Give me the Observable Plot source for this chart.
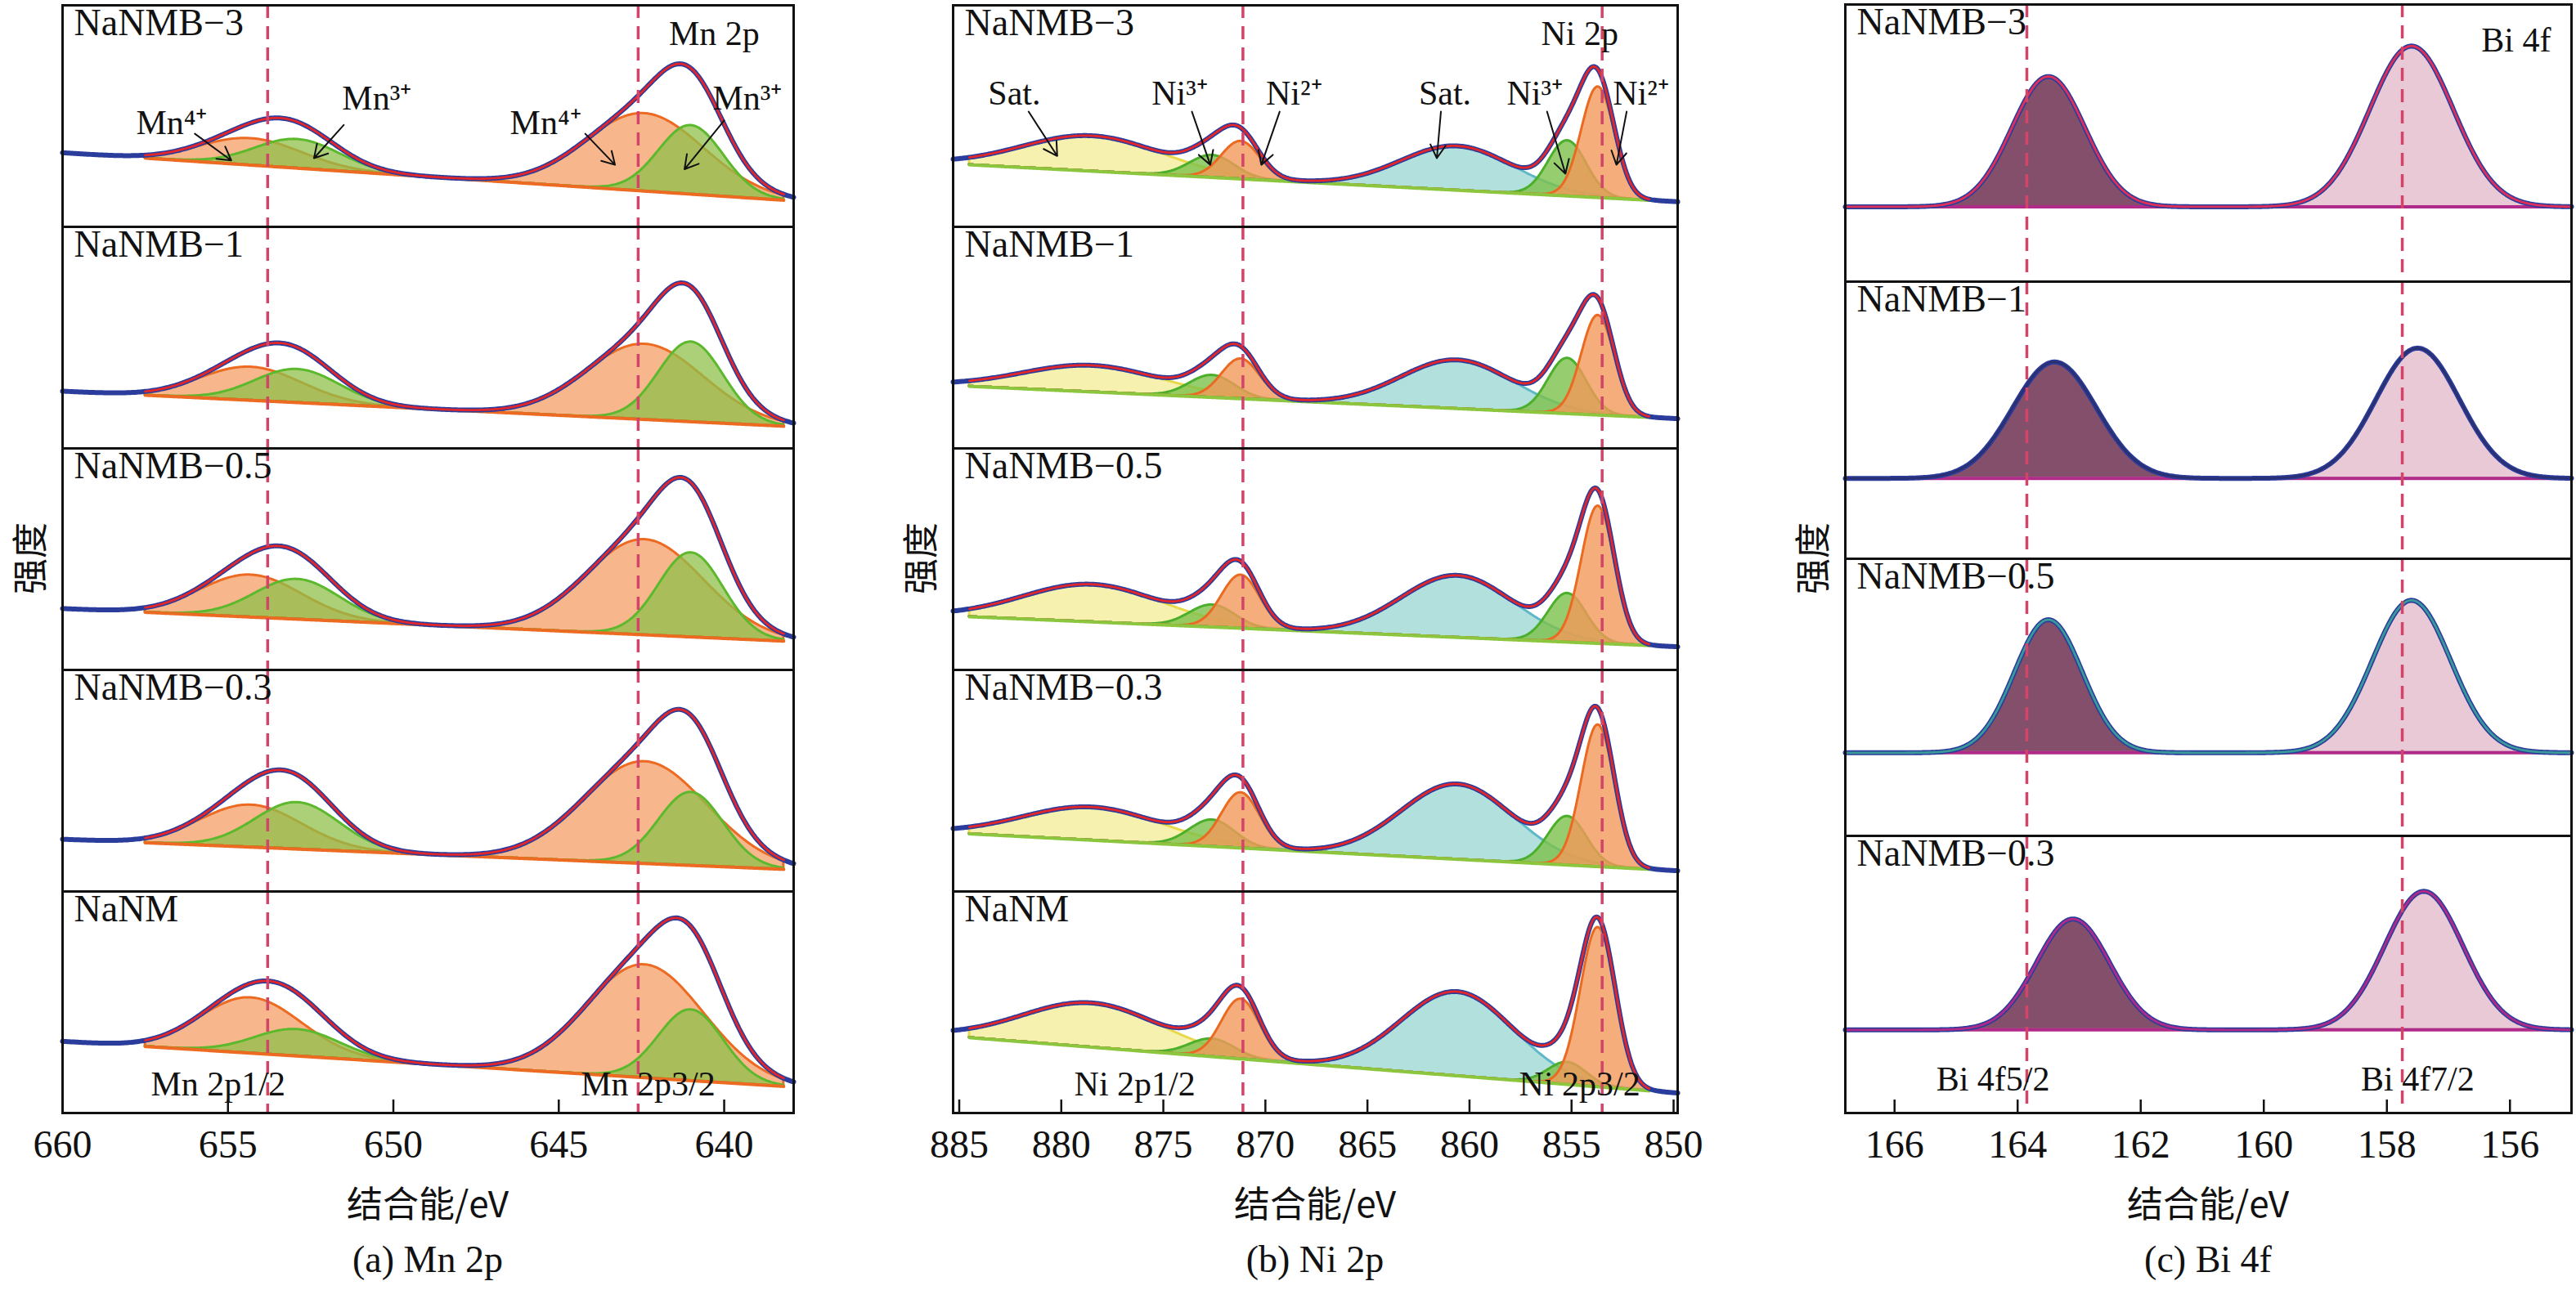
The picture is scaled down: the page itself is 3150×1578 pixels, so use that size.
<!DOCTYPE html>
<html><head><meta charset="utf-8">
<script src="https://cdn.jsdelivr.net/npm/d3@7"></script>
<script src="https://cdn.jsdelivr.net/npm/@observablehq/plot@0.6"></script>
<style>
body{margin:0;background:#fff;}
#root{position:relative;width:3150px;height:1578px;overflow:hidden;font-family:'Liberation Serif','Times New Roman',serif;}
.lab{position:absolute;transform:translateX(-50%);white-space:nowrap;color:#111;line-height:1;}
.cjk{font-family:'Noto Sans CJK SC',sans-serif;font-size:44px;}
.cap{font-size:46px;}
.pl{position:absolute;top:0;}
</style></head><body><div id="root"></div>
<script>
const FONT = "'Liberation Serif','Times New Roman',serif";
// ---------- Mn 2p ----------
const mnSamples = ["NaNMB-3","NaNMB-1","NaNMB-0.5","NaNMB-0.3","NaNM"];
const mnBaseLeft  = [0.31,0.24,0.26,0.22,0.30];
const mnBaseRight = [0.12,0.10,0.13,0.10,0.12];
// sample, kind, center(eV), height, fwhm
const mnPeaks = [
 ["NaNMB-3","Mn4+",654.3,0.12,3.6],["NaNMB-3","Mn3+",652.9,0.13,3.0],["NaNMB-3","Mn4+",642.4,0.35,4.2],["NaNMB-3","Mn3+",641.0,0.31,2.3],
 ["NaNMB-1","Mn4+",654.3,0.15,3.6],["NaNMB-1","Mn3+",652.9,0.15,3.0],["NaNMB-1","Mn4+",642.4,0.34,4.2],["NaNMB-1","Mn3+",641.0,0.36,2.3],
 ["NaNMB-0.5","Mn4+",654.3,0.19,3.6],["NaNMB-0.5","Mn3+",652.9,0.18,3.0],["NaNMB-0.5","Mn4+",642.4,0.43,4.2],["NaNMB-0.5","Mn3+",641.0,0.38,2.3],
 ["NaNMB-0.3","Mn4+",654.3,0.19,3.6],["NaNMB-0.3","Mn3+",652.9,0.21,3.0],["NaNMB-0.3","Mn4+",642.4,0.46,4.4],["NaNMB-0.3","Mn3+",641.0,0.33,2.3],
 ["NaNM","Mn4+",654.3,0.25,3.6],["NaNM","Mn3+",652.9,0.12,3.0],["NaNM","Mn4+",642.4,0.51,4.2],["NaNM","Mn3+",641.0,0.32,2.3]
];
const mnTicks = [660,655,650,645,640];
// ---------- Ni 2p ----------
const niSamples = ["NaNMB-3","NaNMB-1","NaNMB-0.5","NaNMB-0.3","NaNM"];
const niBaseLeft  = [0.28,0.28,0.24,0.26,0.34];
const niBaseRight = [0.12,0.14,0.11,0.10,0.10];
const niPeaks = [
 ["NaNMB-3","SatA",878.5,0.16,8],["NaNMB-3","Ni3+",872.6,0.10,2.6],["NaNMB-3","Ni2+",871.2,0.17,2.2],["NaNMB-3","SatB",860.6,0.20,6.5],["NaNMB-3","Ni3+",855.2,0.25,2.2],["NaNMB-3","Ni2+",853.7,0.50,1.9],
 ["NaNMB-1","SatA",878.5,0.12,8],["NaNMB-1","Ni3+",872.6,0.10,2.6],["NaNMB-1","Ni2+",871.2,0.18,2.2],["NaNMB-1","SatB",860.6,0.22,6.5],["NaNMB-1","Ni3+",855.2,0.25,2.2],["NaNMB-1","Ni2+",853.7,0.45,1.9],
 ["NaNMB-0.5","SatA",878.5,0.17,8],["NaNMB-0.5","Ni3+",872.6,0.10,2.6],["NaNMB-0.5","Ni2+",871.2,0.24,2.2],["NaNMB-0.5","SatB",860.6,0.28,6.5],["NaNMB-0.5","Ni3+",855.2,0.22,2.2],["NaNMB-0.5","Ni2+",853.7,0.62,1.9],
 ["NaNMB-0.3","SatA",878.5,0.15,8],["NaNMB-0.3","Ni3+",872.6,0.12,2.6],["NaNMB-0.3","Ni2+",871.2,0.25,2.2],["NaNMB-0.3","SatB",860.6,0.34,6.5],["NaNMB-0.3","Ni3+",855.2,0.22,2.2],["NaNMB-0.3","Ni2+",853.7,0.64,1.9],
 ["NaNM","SatA",878.5,0.20,8],["NaNM","Ni3+",872.6,0.08,2.6],["NaNM","Ni2+",871.2,0.27,2.2],["NaNM","SatB",860.6,0.38,6.5],["NaNM","Ni3+",855.2,0.10,2.2],["NaNM","Ni2+",853.7,0.72,2.0]
];
const niTicks = [885,880,875,870,865,860,855,850];
// ---------- Bi 4f ----------
const biSamples = ["NaNMB-3","NaNMB-1","NaNMB-0.5","NaNMB-0.3"];
const biBaseLeft  = [0.27,0.29,0.30,0.30];
const biBaseRight = [0.27,0.29,0.30,0.30];
const biPeaks = [
 ["NaNMB-3","Bi52",163.5,0.47,1.4],["NaNMB-3","Bi72",157.6,0.58,1.6],
 ["NaNMB-1","Bi52",163.4,0.42,1.6],["NaNMB-1","Bi72",157.5,0.47,1.6],
 ["NaNMB-0.5","Bi52",163.5,0.48,1.3],["NaNMB-0.5","Bi72",157.6,0.55,1.5],
 ["NaNMB-0.3","Bi52",163.1,0.40,1.4],["NaNMB-0.3","Bi72",157.4,0.50,1.5]
];
const biTicks = [166,164,162,160,158,156];

const fillMap = {"Mn4+":"#f5a46e","Mn3+":"#8fc04a","SatA":"#f4ee9a","SatB":"#9fd8d4","Ni3+":"#7cc04a","Ni2+":"#f3985a","Bi52":"#6e3050","Bi72":"#e6c0d0"};
const strokeMap = {"Mn4+":"#ec6a22","Mn3+":"#5cb82c","SatA":"#e8d84a","SatB":"#5fb8c8","Ni3+":"#4caf2c","Ni2+":"#ea6a22","Bi52":"#5a2040","Bi72":"#d8a0b8"};
const opMap = {"Mn4+":0.8,"Mn3+":0.75,"SatA":0.8,"SatB":0.8,"Ni3+":0.8,"Ni2+":0.8,"Bi52":0.85,"Bi72":0.85};

const gauss = (x,c,h,w) => h*Math.exp(-4*Math.LN2*((x-c)/w)**2);

function buildPanel(o){
  const [d0,d1] = o.domain, [f0,f1] = o.fit;
  const base = (s,x) => { const i=o.samples.indexOf(s); return o.bl[i] + (o.br[i]-o.bl[i])*(x-f0)/(f1-f0); };
  const grid = (a,b) => { const n=Math.round(Math.abs(b-a)/o.step); return d3.range(n+1).map(k=>a+(b-a)*k/n); };
  const comp = [];
  o.peaks.forEach((p,pi)=>{ const [s,kind,c,h,w]=p;
    grid(f0,f1).forEach(x=>{ const b=base(s,x); comp.push({s,kind,id:pi,x,b,t:b+gauss(x,c,h,w)}); }); });
  const env = (a,b) => { const r=[]; o.samples.forEach(s=>grid(a,b).forEach(x=>{ let v=base(s,x); o.peaks.forEach(p=>{ if(p[0]===s) v+=gauss(x,p[2],p[3],p[4]); }); r.push({s,x,v,b:base(s,x)}); })); return r; };
  const fitEnv = env(f0,f1), fullEnv = env(d0,d1);
  const marks = [
    Plot.areaY(comp,{x:"x",y1:"b",y2:"t",z:"id",fy:"s",fill:d=>fillMap[d.kind],fillOpacity:d=>opMap[d.kind],stroke:d=>strokeMap[d.kind],strokeWidth:3}),
    Plot.line(fitEnv,{x:"x",y:"b",z:"s",fy:"s",stroke:o.baseColor,strokeWidth:4}),
    Plot.line(fullEnv,{x:"x",y:"v",z:"s",fy:"s",stroke:"#2a3c9c",strokeWidth:6}),
    Plot.line(fitEnv,{x:"x",y:"v",z:"s",fy:"s",stroke:d=>o.envColor(d.s),strokeWidth:2.8}),
    ...o.dashes.map(v=>Plot.ruleX([v],{stroke:"#d24468",strokeWidth:3.5,strokeDasharray:"16,10"})),
    Plot.text(o.samples,{fy:d=>d,text:d=>d.replace("-","\u2212"),frameAnchor:"top-left",dx:14,dy:4,fontSize:46,fill:"#111"}),
    Plot.text(o.notes,{x:"x",y:"y",fy:"s",text:"t",fontSize:42,fill:"#111"}),
    Plot.arrow(o.arrows,{x1:"x1",y1:"y1",x2:"x2",y2:"y2",fy:"s",stroke:"#111",strokeWidth:2,headLength:14}),
    Plot.frame({stroke:"#111",strokeWidth:3}),
    Plot.axisX({ticks:o.ticks,tickSize:-16,tickPadding:36,label:null,fontSize:48,strokeWidth:2.5,tickFormat:d=>String(d)})
  ];
  return Plot.plot({
    width:o.w+80, height:1358+4+80, marginLeft:40, marginRight:40, marginTop:4, marginBottom:80,
    style:{fontFamily:FONT,fontSize:"48px",background:"transparent",color:"#111"},
    x:{domain:o.domain}, y:{domain:[0,1],axis:null},
    fy:{domain:o.samples,padding:0,axis:null},
    color:{type:"identity"}, opacity:{type:"identity"},
    marks
  });
}

const mnNotes=[{s:"NaNMB-3",x:656.7,y:0.47,t:"Mn⁴⁺"},{s:"NaNMB-3",x:650.5,y:0.58,t:"Mn³⁺"},{s:"NaNMB-3",x:645.4,y:0.47,t:"Mn⁴⁺"},{s:"NaNMB-3",x:639.3,y:0.58,t:"Mn³⁺"},{s:"NaNMB-3",x:640.3,y:0.87,t:"Mn 2p"},
 {s:"NaNM",x:655.3,y:0.13,t:"Mn 2p1/2"},{s:"NaNM",x:642.3,y:0.13,t:"Mn 2p3/2"}];
const mnArrows=[{s:"NaNMB-3",x1:656.0,y1:0.42,x2:654.9,y2:0.30},{s:"NaNMB-3",x1:651.5,y1:0.46,x2:652.4,y2:0.31},{s:"NaNMB-3",x1:644.2,y1:0.42,x2:643.3,y2:0.28},{s:"NaNMB-3",x1:640.0,y1:0.48,x2:641.2,y2:0.26}];
const niNotes=[{s:"NaNMB-3",x:882.3,y:0.6,t:"Sat."},{s:"NaNMB-3",x:874.2,y:0.6,t:"Ni³⁺"},{s:"NaNMB-3",x:868.6,y:0.6,t:"Ni²⁺"},{s:"NaNMB-3",x:861.2,y:0.6,t:"Sat."},{s:"NaNMB-3",x:856.8,y:0.6,t:"Ni³⁺"},{s:"NaNMB-3",x:851.6,y:0.6,t:"Ni²⁺"},{s:"NaNMB-3",x:854.6,y:0.87,t:"Ni 2p"},
 {s:"NaNM",x:876.4,y:0.13,t:"Ni 2p1/2"},{s:"NaNM",x:854.6,y:0.13,t:"Ni 2p3/2"}];
const niArrows=[{s:"NaNMB-3",x1:881.6,y1:0.52,x2:880.2,y2:0.32},{s:"NaNMB-3",x1:873.6,y1:0.52,x2:872.7,y2:0.28},{s:"NaNMB-3",x1:869.3,y1:0.52,x2:870.2,y2:0.28},{s:"NaNMB-3",x1:861.4,y1:0.52,x2:861.6,y2:0.31},{s:"NaNMB-3",x1:856.2,y1:0.52,x2:855.3,y2:0.24},{s:"NaNMB-3",x1:852.3,y1:0.52,x2:852.8,y2:0.28}];
const biNotes=[{s:"NaNMB-3",x:155.9,y:0.87,t:"Bi 4f"},{s:"NaNMB-0.3",x:164.4,y:0.12,t:"Bi 4f5/2"},{s:"NaNMB-0.3",x:157.5,y:0.12,t:"Bi 4f7/2"}];
const biEnvColors={"NaNMB-3":"#e0305a","NaNMB-1":"#2a3070","NaNMB-0.5":"#3a9a9a","NaNMB-0.3":"#b02a8a"};

const panels=[
 {left:76,w:894,cx:523,cap:"(a) Mn 2p",opts:{samples:mnSamples,bl:mnBaseLeft,br:mnBaseRight,peaks:mnPeaks,domain:[660,637.9],fit:[657.5,638.2],step:0.05,ticks:mnTicks,dashes:[653.8,642.6],notes:mnNotes,arrows:mnArrows,baseColor:"#ec6a22",envColor:()=>"#e3262a"}},
 {left:1165,w:886,cx:1608,cap:"(b) Ni 2p",opts:{samples:niSamples,bl:niBaseLeft,br:niBaseRight,peaks:niPeaks,domain:[885.3,849.8],fit:[884.5,851.2],step:0.06,ticks:niTicks,dashes:[871.1,853.5],notes:niNotes,arrows:niArrows,baseColor:"#8cc63f",envColor:()=>"#e3262a"}},
 {left:2256,w:888,cx:2700,cap:"(c) Bi 4f",opts:{samples:biSamples,bl:biBaseLeft,br:biBaseRight,peaks:biPeaks,domain:[166.8,155.0],fit:[166.8,155.0],step:0.02,ticks:biTicks,dashes:[163.85,157.75],notes:biNotes,arrows:[],baseColor:"#b02a8a",envColor:s=>biEnvColors[s]}}
];
const root=document.getElementById("root");
panels.forEach(p=>{
  const svg=buildPanel({...p.opts,w:p.w});
  svg.classList.add("pl"); svg.style.left=(p.left-40)+"px";
  root.appendChild(svg);
  const xl=document.createElement("div"); xl.className="lab cjk"; xl.style.left=p.cx+"px"; xl.style.top="1448px"; xl.textContent="结合能/eV"; root.appendChild(xl);
  const c=document.createElement("div"); c.className="lab cap"; c.style.left=p.cx+"px"; c.style.top="1518px"; c.textContent=p.cap; root.appendChild(c);
  const yl=document.createElement("div"); yl.className="lab cjk"; yl.style.left=(p.left-42)+"px"; yl.style.top="683px"; yl.style.transform="translate(-50%,-50%) rotate(-90deg)"; yl.textContent="强度"; root.appendChild(yl);
});
</script></body></html>
